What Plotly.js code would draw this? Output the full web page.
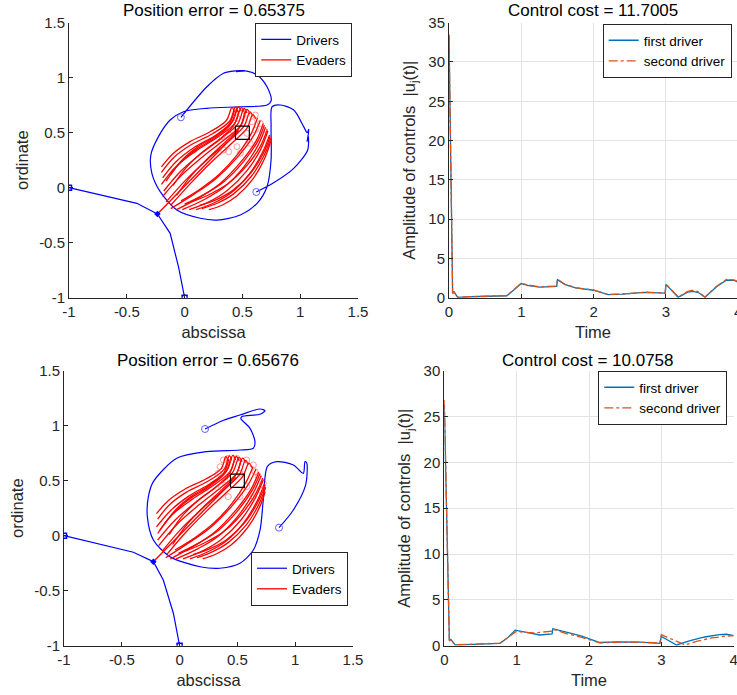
<!DOCTYPE html>
<html><head><meta charset="utf-8">
<script src="https://cdn.plot.ly/plotly-3.0.1.min.js"></script>
<style>html,body{margin:0;padding:0;background:#fff}#chart{width:737px;height:695px}</style>
</head><body><div id="chart"></div>
<script>
// ---------- DATA ----------
const posTickVals = [-1, -0.5, 0, 0.5, 1, 1.5];
const posTickText = ['-1', '-0.5', '0', '0.5', '1', '1.5'];
const titles = ['Position error = 0.65375', 'Control cost = 11.7005', 'Position error = 0.65676', 'Control cost = 10.0758'];
const targetX = [0.44, 0.56, 0.56, 0.44, 0.44];
const targetY = [0.44, 0.44, 0.56, 0.56, 0.44];

// top-left drivers
const tlD1x = [-1, -0.645, -0.413, -0.235];
const tlD1y = [0, -0.082, -0.142, -0.239];
const tlD2x = [0, -0.053, -0.125, -0.235];
const tlD2y = [-1, -0.718, -0.415, -0.239];
const tlLoopX = [-0.032, 0.193, 0.337, 0.42, 0.52, 0.45, 0.54, 0.627, 0.713, 0.75, 0.713, 0.482, 0.193, -0.01, -0.125, -0.226, -0.292, -0.283, -0.211, -0.067, 0.135, 0.28, 0.482, 0.627, 0.713, 0.748, 0.748, 0.757, 0.828, 0.944, 1.03, 1.06, 1.075, 1.06, 1.07, 1.065, 0.944, 0.77, 0.62];
const tlLoopY = [0.64, 0.918, 1.04, 1.06, 1.065, 1.055, 1.06, 1.025, 0.918, 0.797, 0.752, 0.736, 0.722, 0.691, 0.615, 0.464, 0.297, 0.131, -0.036, -0.203, -0.278, -0.294, -0.248, -0.142, 0.009, 0.252, 0.555, 0.736, 0.752, 0.706, 0.555, 0.50, 0.53, 0.42, 0.47, 0.343, 0.176, 0.045, -0.039];
const tlStartX = [-1, 0];
const tlStartY = [0, -1];
const tlEndX = [-0.032, 0.62];
const tlEndY = [0.64, -0.039];
const tlLineX = [-0.235, 0.47];
const tlLineY = [-0.239, 0.52];
const tlEvX = [
  [-0.20, -0.096, 0.044, 0.221, 0.361, 0.41, 0.43], [-0.20, -0.091, 0.056, 0.242, 0.389, 0.44, 0.46],
  [-0.19, -0.072, 0.085, 0.269, 0.413, 0.465, 0.49], [-0.20, -0.069, 0.104, 0.29, 0.435, 0.49, 0.515],
  [-0.18, -0.034, 0.14, 0.32, 0.459, 0.515, 0.54], [-0.19, -0.029, 0.16, 0.343, 0.489, 0.54, 0.565],
  [-0.16, 0.007, 0.195, 0.377, 0.514, 0.565, 0.59], [-0.12, 0.058, 0.235, 0.413, 0.54, 0.59, 0.615],
  [-0.12, -0.021, 0.111, 0.265, 0.386, 0.43], [-0.10, 0.014, 0.157, 0.31, 0.424, 0.47],
  [-0.07, 0.06, 0.213, 0.361, 0.479, 0.52], [-0.16, -0.05, 0.096, 0.267, 0.401, 0.45],
  [0.21, 0.328, 0.451, 0.595, 0.692, 0.745], [0.15, 0.287, 0.424, 0.578, 0.686, 0.745],
  [0.10, 0.252, 0.398, 0.557, 0.672, 0.735], [0.04, 0.21, 0.366, 0.536, 0.659, 0.72],
  [-0.02, 0.167, 0.34, 0.513, 0.635, 0.70], [-0.07, 0.125, 0.305, 0.485, 0.62, 0.68],
  [-0.12, 0.089, 0.268, 0.454, 0.593, 0.655], [-0.03, 0.142, 0.30, 0.458, 0.577, 0.63],
  [0.06, 0.224, 0.374, 0.538, 0.656, 0.715], [0.13, 0.27, 0.411, 0.569, 0.679, 0.74],
  [0.0, 0.179, 0.345, 0.511, 0.635, 0.69]
];
const tlEvY = [
  [0.19, 0.314, 0.417, 0.509, 0.611, 0.73, 0.69], [0.14, 0.277, 0.39, 0.491, 0.604, 0.735, 0.69],
  [0.09, 0.238, 0.367, 0.477, 0.60, 0.735, 0.695], [0.03, 0.198, 0.337, 0.463, 0.588, 0.728, 0.69],
  [-0.03, 0.15, 0.308, 0.45, 0.578, 0.72, 0.68], [-0.08, 0.11, 0.284, 0.435, 0.569, 0.712, 0.67],
  [-0.13, 0.067, 0.255, 0.419, 0.559, 0.69, 0.65], [-0.16, 0.046, 0.236, 0.409, 0.541, 0.665, 0.625],
  [0.12, 0.253, 0.369, 0.468, 0.578, 0.70], [0.02, 0.183, 0.326, 0.448, 0.564, 0.70],
  [-0.07, 0.112, 0.28, 0.424, 0.553, 0.69], [0.06, 0.212, 0.344, 0.456, 0.581, 0.72],
  [-0.20, -0.157, -0.076, 0.085, 0.265, 0.42], [-0.19, -0.139, -0.056, 0.104, 0.29, 0.45],
  [-0.20, -0.139, -0.05, 0.12, 0.317, 0.48], [-0.20, -0.129, -0.028, 0.15, 0.351, 0.515],
  [-0.20, -0.11, 0.003, 0.19, 0.385, 0.55], [-0.20, -0.09, 0.036, 0.232, 0.428, 0.585],
  [-0.19, -0.054, 0.08, 0.274, 0.466, 0.61], [-0.12, -0.007, 0.122, 0.303, 0.492, 0.635],
  [-0.13, -0.057, 0.035, 0.20, 0.378, 0.53], [-0.16, -0.11, -0.029, 0.128, 0.309, 0.465],
  [-0.15, -0.056, 0.059, 0.239, 0.426, 0.57]
];
const tlEvEndX = [0.323, 0.337, 0.381, 0.482, 0.54, 0.583, 0.612, 0.612, 0.655, 0.453, 0.409, 0.453, 0.568, 0.684, 0.54];
const tlEvEndY = [0.464, 0.343, 0.328, 0.313, 0.494, 0.60, 0.524, 0.661, 0.585, 0.631, 0.524, 0.373, 0.403, 0.524, 0.676];

// bottom-left drivers
const blD1x = [-1, -0.602, -0.40, -0.227];
const blD1y = [0, -0.10, -0.15, -0.236];
const blD2x = [0, -0.054, -0.141, -0.227];
const blD2y = [-1, -0.705, -0.403, -0.236];
const blLoopX = [0.22, 0.38, 0.522, 0.696, 0.739, 0.696, 0.537, 0.53, 0.609, 0.652, 0.638, 0.522, 0.234, -0.025, -0.227, -0.27, -0.279, -0.227, -0.083, 0.176, 0.349, 0.522, 0.638, 0.696, 0.724, 0.76, 0.84, 0.984, 1.07, 1.085, 1.10, 1.09, 0.984, 0.86];
const blLoopY = [0.97, 1.05, 1.097, 1.152, 1.136, 1.104, 1.082, 1.065, 0.976, 0.855, 0.795, 0.779, 0.764, 0.704, 0.491, 0.355, 0.173, -0.039, -0.191, -0.282, -0.296, -0.251, -0.13, 0.052, 0.325, 0.63, 0.673, 0.643, 0.567, 0.673, 0.66, 0.46, 0.234, 0.073];
const blStartX = [-1, 0];
const blStartY = [0, -1];
const blEndX = [0.22, 0.86];
const blEndY = [0.97, 0.073];
const blLineX = [-0.227, 0.49];
const blLineY = [-0.236, 0.53];
const blEvX = [
  [-0.20, -0.094, 0.048, 0.226, 0.36, 0.40, 0.42], [-0.19, -0.085, 0.06, 0.245, 0.385, 0.43, 0.45],
  [-0.20, -0.075, 0.082, 0.266, 0.41, 0.46, 0.485], [-0.19, -0.064, 0.108, 0.293, 0.438, 0.49, 0.515],
  [-0.19, -0.038, 0.137, 0.318, 0.458, 0.515, 0.54], [-0.18, -0.024, 0.165, 0.347, 0.492, 0.545, 0.57],
  [-0.15, 0.012, 0.2, 0.38, 0.518, 0.57, 0.595], [-0.11, 0.062, 0.24, 0.417, 0.545, 0.60, 0.625],
  [-0.13, -0.025, 0.108, 0.262, 0.383, 0.425], [-0.09, 0.02, 0.16, 0.314, 0.428, 0.475],
  [-0.06, 0.066, 0.218, 0.366, 0.484, 0.53], [-0.17, -0.055, 0.092, 0.263, 0.398, 0.445],
  [0.20, 0.32, 0.445, 0.59, 0.69, 0.74], [0.15, 0.283, 0.42, 0.575, 0.684, 0.745],
  [0.09, 0.245, 0.392, 0.552, 0.668, 0.735], [0.03, 0.204, 0.36, 0.531, 0.655, 0.725],
  [-0.03, 0.16, 0.334, 0.508, 0.632, 0.705], [-0.08, 0.118, 0.3, 0.481, 0.617, 0.685],
  [-0.12, 0.085, 0.265, 0.45, 0.59, 0.66], [-0.04, 0.138, 0.296, 0.455, 0.574, 0.635],
  [0.05, 0.218, 0.37, 0.534, 0.653, 0.72], [0.12, 0.264, 0.406, 0.565, 0.676, 0.74],
  [-0.01, 0.173, 0.34, 0.507, 0.632, 0.695]
];
const blEvY = [
  [0.20, 0.322, 0.424, 0.515, 0.61, 0.72, 0.68], [0.15, 0.284, 0.396, 0.495, 0.603, 0.725, 0.685],
  [0.08, 0.232, 0.362, 0.474, 0.596, 0.73, 0.69], [0.02, 0.19, 0.33, 0.458, 0.585, 0.72, 0.68],
  [-0.04, 0.143, 0.302, 0.446, 0.574, 0.712, 0.672], [-0.09, 0.102, 0.278, 0.43, 0.565, 0.705, 0.665],
  [-0.14, 0.06, 0.25, 0.415, 0.555, 0.685, 0.645], [-0.17, 0.04, 0.23, 0.404, 0.536, 0.66, 0.62],
  [0.11, 0.246, 0.362, 0.462, 0.572, 0.695], [0.01, 0.176, 0.32, 0.442, 0.559, 0.695],
  [-0.08, 0.105, 0.274, 0.419, 0.548, 0.685], [0.05, 0.205, 0.338, 0.451, 0.576, 0.715],
  [-0.21, -0.164, -0.084, 0.076, 0.255, 0.40], [-0.20, -0.147, -0.063, 0.096, 0.282, 0.44],
  [-0.21, -0.146, -0.057, 0.113, 0.31, 0.475], [-0.21, -0.136, -0.035, 0.143, 0.344, 0.51],
  [-0.21, -0.117, -0.004, 0.183, 0.378, 0.545], [-0.21, -0.097, 0.029, 0.225, 0.421, 0.58],
  [-0.20, -0.061, 0.073, 0.267, 0.459, 0.605], [-0.13, -0.014, 0.115, 0.296, 0.485, 0.63],
  [-0.14, -0.064, 0.028, 0.193, 0.371, 0.525], [-0.17, -0.117, -0.036, 0.121, 0.302, 0.46],
  [-0.16, -0.063, 0.052, 0.232, 0.419, 0.565]
];
const blEvEndX = [0.378, 0.421, 0.35, 0.335, 0.494, 0.58, 0.638, 0.652, 0.681, 0.724, 0.695, 0.638, 0.522, 0.421, 0.364, 0.393, 0.58, 0.522];
const blEvEndY = [0.688, 0.703, 0.627, 0.567, 0.703, 0.688, 0.643, 0.582, 0.537, 0.476, 0.415, 0.355, 0.355, 0.355, 0.446, 0.506, 0.446, 0.567];

// top-right controls
const trT1 = [0, 0.05, 0.07, 0.12, 0.3, 0.5, 0.8, 0.9, 1.0, 1.1, 1.25, 1.49, 1.5, 1.6, 1.75, 2.0, 2.2, 2.4, 2.7, 2.99, 3.0, 3.17, 3.3, 3.38, 3.46, 3.54, 3.7, 3.84, 3.95, 4.0];
const trU1 = [33.5, 0.6, 0.75, 0.05, 0.12, 0.2, 0.25, 1.0, 1.8, 1.55, 1.35, 1.45, 2.3, 1.7, 1.25, 0.95, 0.4, 0.45, 0.68, 0.58, 1.7, 0.05, 0.7, 0.8, 0.6, 0.05, 1.4, 2.25, 2.2, 1.95];
const trT2 = [0, 0.05, 0.07, 0.12, 0.3, 0.5, 0.8, 0.9, 1.0, 1.1, 1.25, 1.49, 1.5, 1.6, 1.75, 2.0, 2.2, 2.4, 2.7, 2.99, 3.0, 3.17, 3.3, 3.38, 3.46, 3.54, 3.7, 3.84, 3.95, 4.0];
const trU2 = [33.3, 0.55, 0.7, 0.06, 0.13, 0.22, 0.27, 1.05, 1.85, 1.6, 1.38, 1.48, 2.35, 1.72, 1.28, 0.97, 0.42, 0.47, 0.7, 0.6, 1.75, 0.07, 0.8, 0.95, 0.7, 0.07, 1.45, 2.35, 2.25, 2.0];

// bottom-right controls
const brT1 = [0, 0.07, 0.09, 0.15, 0.4, 0.77, 0.88, 0.98, 1.1, 1.32, 1.49, 1.5, 1.7, 1.9, 2.15, 2.4, 2.7, 2.98, 3.0, 3.21, 3.4, 3.6, 3.8, 3.9, 4.0];
const brU1 = [26.3, 0.6, 0.7, 0.08, 0.15, 0.26, 0.9, 1.7, 1.5, 1.17, 1.3, 1.85, 1.45, 1.05, 0.35, 0.42, 0.4, 0.25, 1.0, 0.08, 0.55, 0.95, 1.2, 1.25, 1.1];
const brT2 = [0, 0.07, 0.09, 0.15, 0.4, 0.77, 0.88, 1.0, 1.1, 1.26, 1.49, 1.5, 1.7, 1.9, 2.15, 2.4, 2.7, 2.98, 3.0, 3.33, 3.5, 3.7, 3.9, 4.0];
const brU2 = [26.8, 0.5, 0.65, 0.1, 0.17, 0.28, 0.9, 1.6, 1.45, 1.4, 1.6, 1.8, 1.3, 0.9, 0.3, 0.4, 0.38, 0.3, 1.2, 0.08, 0.5, 0.85, 1.05, 1.1];

// ---------- STYLE / BUILD ----------
const FONT = '"Liberation Sans", Arial, Helvetica, sans-serif';
const TXT = '#262626';
const BLUE = '#0000FF', RED = '#FF0000';
const traces = [];

function posPanel(xa, ya, leg, d1x, d1y, d2x, d2y, lx, ly, sx, sy, ex, ey, linex, liney, evx, evy, eex, eey) {
  const base = {xaxis: xa, yaxis: ya, type: 'scatter', hoverinfo: 'skip'};
  traces.push(Object.assign({}, base, {x: d1x, y: d1y, mode: 'lines', line: {color: BLUE, width: 1.2}, name: 'Drivers', legend: leg, showlegend: true}));
  traces.push(Object.assign({}, base, {x: d2x, y: d2y, mode: 'lines', line: {color: BLUE, width: 1.2}, showlegend: false}));
  traces.push(Object.assign({}, base, {x: lx, y: ly, mode: 'lines', line: {color: BLUE, width: 1.2, shape: 'spline', smoothing: 0.8}, showlegend: false}));
  evx.forEach((cx, i) => {
    traces.push(Object.assign({}, base, {x: cx, y: evy[i], mode: 'lines', line: {color: RED, width: 1.3, shape: 'spline', smoothing: 1}, name: 'Evaders', legend: leg, showlegend: i === 0}));
  });
  traces.push(Object.assign({}, base, {x: linex, y: liney, mode: 'lines', line: {color: RED, width: 1.4}, showlegend: false}));
  traces.push(Object.assign({}, base, {x: eex, y: eey, mode: 'markers', marker: {symbol: 'circle-open', size: 6, color: 'rgba(255,60,60,0.5)', line: {width: 1}}, showlegend: false}));
  traces.push(Object.assign({}, base, {x: sx, y: sy, mode: 'markers', marker: {symbol: 'square-open', size: 5, color: BLUE, line: {width: 1.5}}, showlegend: false}));
  traces.push(Object.assign({}, base, {x: [d1x[d1x.length-1]], y: [d1y[d1y.length-1]], mode: 'markers', marker: {symbol: 'diamond', size: 5, color: BLUE}, showlegend: false}));
  traces.push(Object.assign({}, base, {x: ex, y: ey, mode: 'markers', marker: {symbol: 'circle-open', size: 7, color: '#6060FF', line: {width: 1}}, showlegend: false}));
  traces.push(Object.assign({}, base, {x: targetX, y: targetY, mode: 'lines', line: {color: '#000000', width: 1.2}, showlegend: false}));
}

posPanel('x', 'y', 'legend', tlD1x, tlD1y, tlD2x, tlD2y, tlLoopX, tlLoopY, tlStartX, tlStartY, tlEndX, tlEndY, tlLineX, tlLineY, tlEvX, tlEvY, tlEvEndX, tlEvEndY);
posPanel('x3', 'y3', 'legend3', blD1x, blD1y, blD2x, blD2y, blLoopX, blLoopY, blStartX, blStartY, blEndX, blEndY, blLineX, blLineY, blEvX, blEvY, blEvEndX, blEvEndY);

function ctrlPanel(xa, ya, leg, t1, u1, t2, u2) {
  traces.push({xaxis: xa, yaxis: ya, x: t1, y: u1, type: 'scatter', mode: 'lines', name: 'first driver', legend: leg, line: {color: '#0072BD', width: 1.3}, hoverinfo: 'skip'});
  traces.push({xaxis: xa, yaxis: ya, x: t2, y: u2, type: 'scatter', mode: 'lines', name: 'second driver', legend: leg, line: {color: '#D95319', width: 1.3, dash: 'dashdot'}, hoverinfo: 'skip'});
}
ctrlPanel('x2', 'y2', 'legend2', trT1, trU1, trT2, trU2);
ctrlPanel('x4', 'y4', 'legend4', brT1, brU1, brT2, brU2);

const tickFont = {family: FONT, size: 15, color: TXT};
const labFont = {family: FONT, size: 16.5, color: TXT};
function posAxis(dom, isX, title) {
  return {domain: dom, range: [-1, 1.5], tickvals: posTickVals, ticktext: posTickText, showline: true, linecolor: TXT, linewidth: 1,
    ticks: 'inside', ticklen: 4, tickcolor: TXT, showgrid: false, zeroline: false, tickfont: tickFont, ticklabeloverflow: 'allow',
    title: {text: title, font: labFont, standoff: isX ? 7 : 6}};
}
function ctrlX(dom, rng) {
  return {domain: dom, range: rng, tickvals: [0, 1, 2, 3, 4], ticktext: ['0', '1', '2', '3', '4'], showline: true, linecolor: TXT, linewidth: 1, ticks: 'inside', ticklen: 4, tickcolor: TXT,
    showgrid: true, gridcolor: '#E3E3E3', gridwidth: 1, zeroline: false, tickfont: tickFont, ticklabeloverflow: 'allow',
    title: {text: 'Time', font: labFont, standoff: 7}};
}
function ctrlY(dom, rng) {
  return {domain: dom, range: rng, dtick: 5, tick0: 0, showline: true, linecolor: TXT, linewidth: 1, ticks: 'inside', ticklen: 4, tickcolor: TXT,
    showgrid: true, gridcolor: '#E3E3E3', gridwidth: 1, zeroline: false, tickfont: tickFont,
    title: {text: 'Amplitude of controls&nbsp; |u<sub>j</sub>(t)|', font: labFont, standoff: 8}};
}

const topY = [0.57165, 0.96734], botY = [0.07094, 0.46662];
const legBase = {bgcolor: '#FFFFFF', bordercolor: TXT, borderwidth: 1, font: {family: FONT, size: 13.5, color: '#000'}, xanchor: 'right', yanchor: 'top', tracegroupgap: 0};

const layout = {
  width: 737, height: 695, margin: {l: 0, r: 0, t: 0, b: 0}, paper_bgcolor: '#fff', plot_bgcolor: '#fff',
  font: {family: FONT, color: TXT},
  xaxis: Object.assign(posAxis([0.09362, 0.48575], true, 'abscissa'), {anchor: 'y'}),
  yaxis: Object.assign(posAxis(topY, false, 'ordinate'), {anchor: 'x'}),
  xaxis2: Object.assign(ctrlX([0.60923, 1], [0, 3.983]), {anchor: 'y2'}),
  yaxis2: Object.assign(ctrlY(topY, [0, 35]), {anchor: 'x2'}),
  xaxis3: Object.assign(posAxis([0.08684, 0.47897], true, 'abscissa'), {anchor: 'y3'}),
  yaxis3: Object.assign(posAxis(botY, false, 'ordinate'), {anchor: 'x3'}),
  xaxis4: Object.assign(ctrlX([0.60285, 0.99552], [0, 4.0001]), {anchor: 'y4'}),
  yaxis4: Object.assign(ctrlY(botY, [0, 30]), {anchor: 'x4'}),
  legend: Object.assign({}, legBase, {x: 0.478, y: 0.9669}),
  legend2: Object.assign({}, legBase, {x: 0.9928, y: 0.9655}),
  legend3: Object.assign({}, legBase, {x: 0.4722, y: 0.2058}),
  legend4: Object.assign({}, legBase, {x: 0.9868, y: 0.4662}),
  showlegend: true,
  annotations: [
    {text: titles[0], x: 0.2897, y: 0.9842, xref: 'paper', yref: 'paper', xanchor: 'center', yanchor: 'middle', showarrow: false, font: {family: FONT, size: 17, color: '#000'}},
    {text: titles[1], x: 0.8046, y: 0.9842, xref: 'paper', yref: 'paper', xanchor: 'center', yanchor: 'middle', showarrow: false, font: {family: FONT, size: 17, color: '#000'}},
    {text: titles[2], x: 0.2825, y: 0.482, xref: 'paper', yref: 'paper', xanchor: 'center', yanchor: 'middle', showarrow: false, font: {family: FONT, size: 17, color: '#000'}},
    {text: titles[3], x: 0.7972, y: 0.482, xref: 'paper', yref: 'paper', xanchor: 'center', yanchor: 'middle', showarrow: false, font: {family: FONT, size: 17, color: '#000'}},
    {text: '4', x: 1.0016, y: 0.5525, xref: 'paper', yref: 'paper', xanchor: 'center', yanchor: 'middle', showarrow: false, font: tickFont}
  ]
};

Plotly.newPlot('chart', traces, layout, {staticPlot: true, displayModeBar: false});
</script></body></html>
